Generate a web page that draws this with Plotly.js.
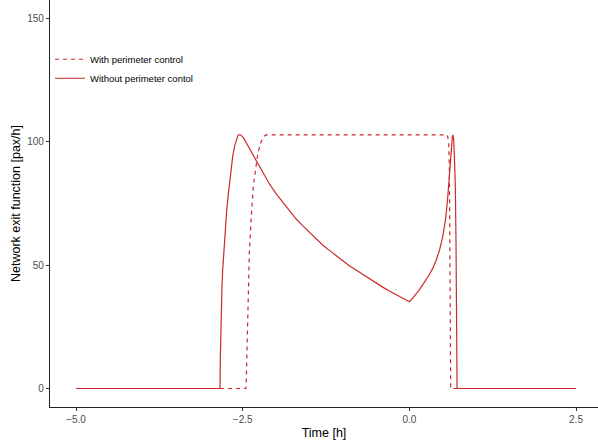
<!DOCTYPE html>
<html>
<head>
<meta charset="utf-8">
<script src="https://cdn.plot.ly/plotly-3.0.1.min.js"></script>
<style>html,body{margin:0;padding:0;background:#fff}#chart{width:598px;height:447px}</style>
</head>
<body>
<div id="chart"></div>
<script>
// Time [h] and exit function [pax/h]
const timeWith = [-5, -2.45, -2.445, -2.44, -2.43, -2.42, -2.40, -2.37, -2.34, -2.30, -2.27, -2.23, -2.19, -2.15, 0.57, 0.59, 0.60, 0.605, 0.61, 0.615, 0.62, 2.5];
const exitWith = [0, 0, 4, 10, 22, 35, 55, 70, 82, 90, 95.6, 99.5, 102, 102.8, 102.8, 100, 90, 70, 40, 15, 0, 0];

const timeWithout = [-5, -2.84, -2.835, -2.83, -2.82, -2.81, -2.80, -2.78, -2.76, -2.74, -2.71, -2.68, -2.65, -2.62, -2.59, -2.57, -2.55, -2.52, -2.48, -2.44, -2.40, -2.35, -2.30, -2.25, -2.20, -2.10, -2.00, -1.90, -1.80, -1.70, -1.60, -1.50, -1.40, -1.30, -1.20, -1.10, -1.00, -0.90, -0.80, -0.70, -0.60, -0.50, -0.40, -0.30, -0.20, -0.10, 0, 0.05, 0.10, 0.15, 0.20, 0.25, 0.30, 0.35, 0.40, 0.45, 0.50, 0.54, 0.57, 0.60, 0.62, 0.635, 0.645, 0.655, 0.665, 0.675, 0.69, 0.70, 0.71, 0.716, 2.5];
const exitWithout = [0, 0, 12, 22, 33, 42, 48, 57, 65, 72, 80, 88, 94, 98.5, 101.5, 102.6, 102.9, 102.6, 101.3, 99.5, 97.5, 95, 92.5, 90, 87.5, 83, 79, 75.5, 72, 68.8, 66, 63.3, 60.7, 58.2, 56, 53.8, 51.8, 49.8, 48, 46.2, 44.5, 42.8, 41.1, 39.5, 38, 36.6, 35.2, 36.6, 38.2, 40, 42, 44, 46.2, 48.7, 51.8, 55.8, 61.5, 68, 75.5, 86, 94, 99.5, 102, 102.8, 101, 95, 82, 60, 25, 0, 0];

const seriesNames = ['With perimeter control', 'Without perimeter contol'];
const xTicks = [-5, -2.5, 0, 2.5];
const yTicks = [0, 50, 100, 150];

const red = '#cc2a2a';
const traces = [
  {x: timeWith, y: exitWith, name: seriesNames[0], mode: 'lines', type: 'scatter',
   line: {color: red, width: 1.2, dash: '4px,4px'}},
  {x: timeWithout, y: exitWithout, name: seriesNames[1], mode: 'lines', type: 'scatter',
   line: {color: red, width: 1.2}}
];

const layout = {
  width: 598, height: 447,
  margin: {l: 50, r: 0, t: 0, b: 40},
  paper_bgcolor: '#fff', plot_bgcolor: '#fff',
  font: {family: 'Liberation Sans, Arial, sans-serif', size: 10, color: '#000'},
  showlegend: true,
  legend: {x: 0.0, y: 0.89, xanchor: 'left', yanchor: 'top', bgcolor: 'rgba(0,0,0,0)',
           font: {size: 9.5, color: '#000'}, tracegroupgap: 0},
  xaxis: {
    range: [-5.39, 2.83], tickvals: xTicks, tickformat: '.1f',
    showgrid: false, zeroline: false, showline: true, linecolor: '#222', linewidth: 1.1,
    ticks: 'outside', ticklen: 3, tickcolor: '#333', tickwidth: 1,
    tickfont: {size: 10, color: '#4d4d4d'},
    title: {text: 'Time [h]', font: {size: 12.5, color: '#000'}, standoff: 4}
  },
  yaxis: {
    range: [-7.5, 157.5], tickvals: yTicks,
    showgrid: false, zeroline: false, showline: true, linecolor: '#222', linewidth: 1.1,
    ticks: 'outside', ticklen: 3, tickcolor: '#333', tickwidth: 1,
    tickfont: {size: 10, color: '#4d4d4d'},
    title: {text: 'Network exit function [pax/h]', font: {size: 12.5, color: '#000'}, standoff: 3}
  }
};

Plotly.newPlot('chart', traces, layout, {displayModeBar: false, staticPlot: true});
</script>
</body>
</html>
